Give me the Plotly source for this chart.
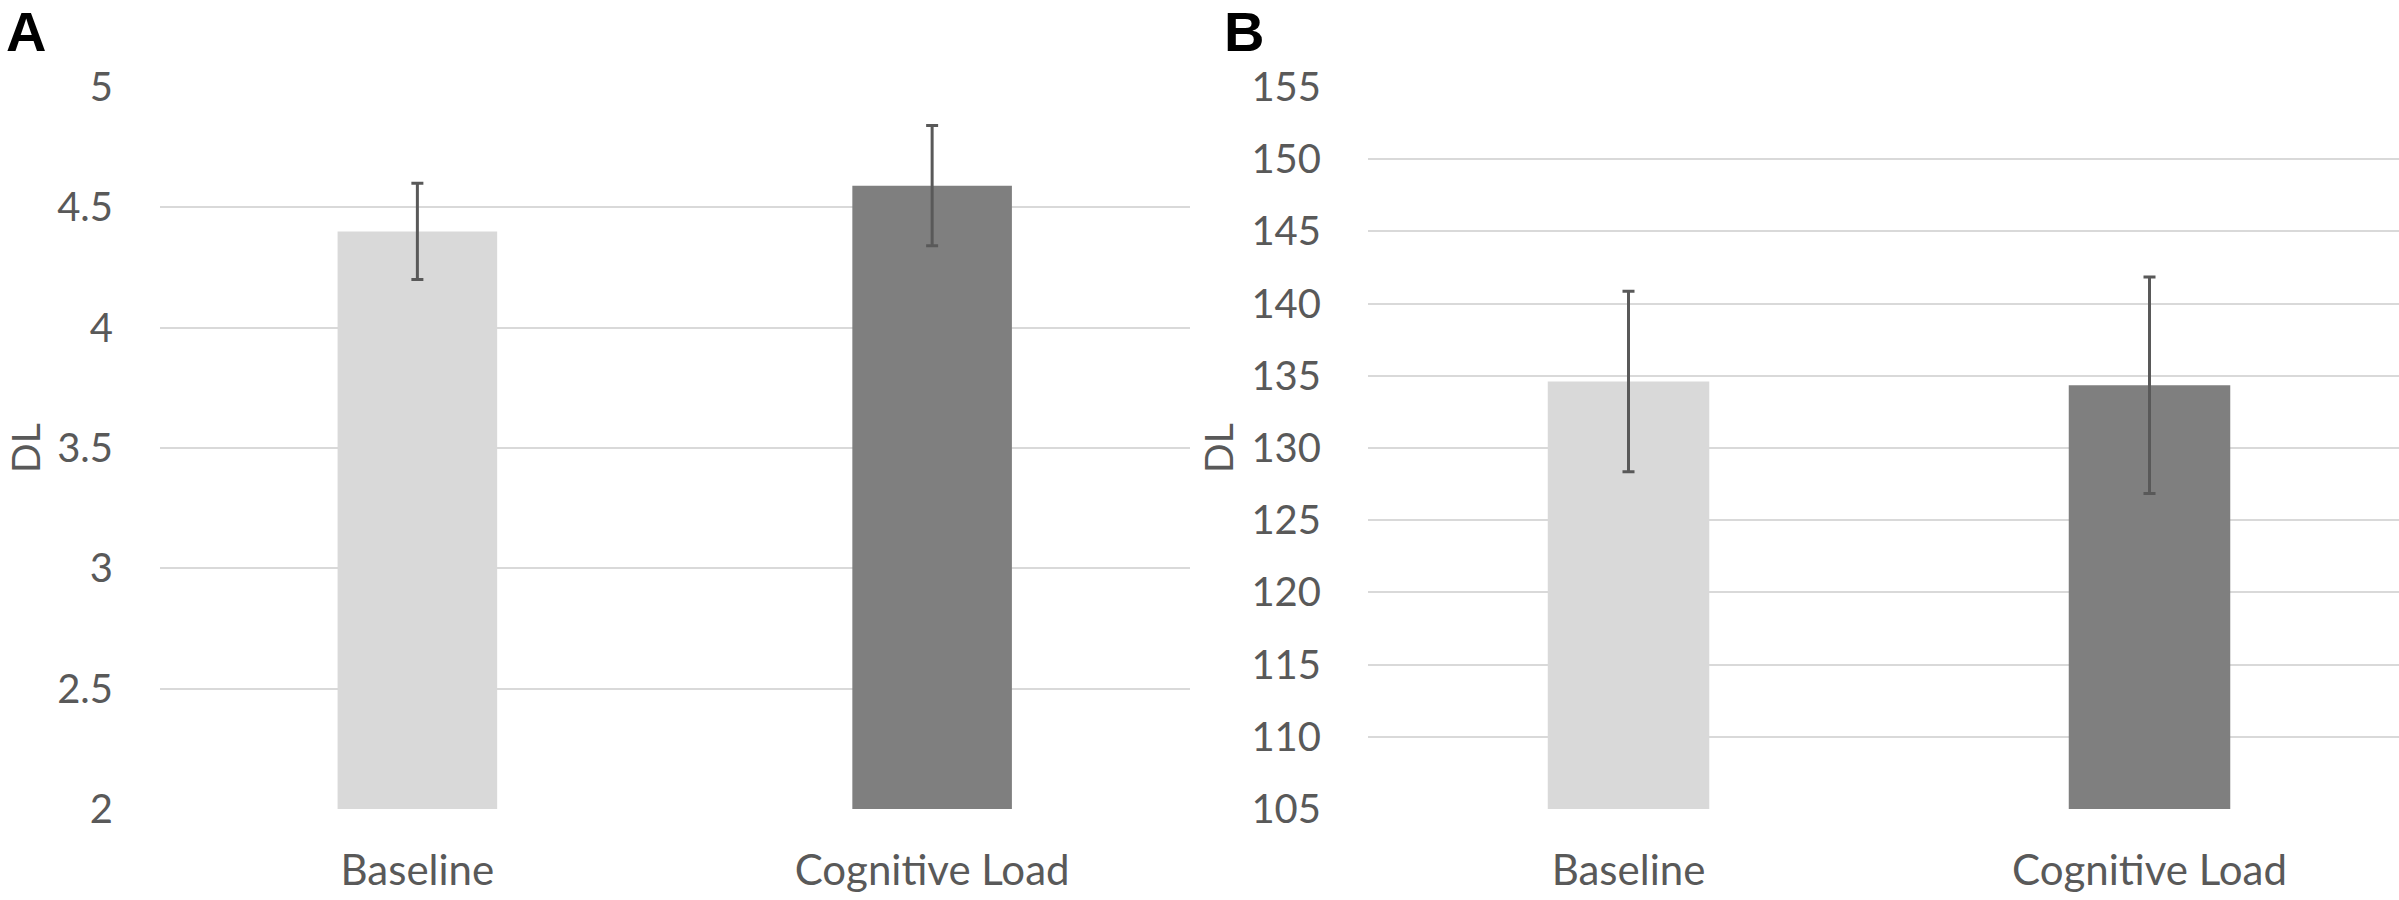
import plotly.graph_objects as go

categories = ["Baseline", "Cognitive Load"]
bar_colors = ["#D9D9D9", "#7F7F7F"]

a_values = [4.4, 4.59]
a_errors = [0.2, 0.25]
a_tickvals = [2, 2.5, 3, 3.5, 4, 4.5, 5]
a_ticktext = ["2", "2.5", "3", "3.5", "4", "4.5", "5"]

b_values = [134.6, 134.35]
b_errors = [6.25, 7.5]
b_tickvals = [105, 110, 115, 120, 125, 130, 135, 140, 145, 150, 155]
b_ticktext = [str(v) for v in b_tickvals]

W, H = 2399, 900
FONT = "Lato"
GRAY = "#595959"

fig = go.Figure()
for vals, errs, xa, ya in [(a_values, a_errors, "x", "y"), (b_values, b_errors, "x2", "y2")]:
    fig.add_trace(go.Bar(
        x=categories, y=vals, xaxis=xa, yaxis=ya,
        marker=dict(color=bar_colors, line=dict(width=0)),
        error_y=dict(type="data", array=errs, visible=True, color=GRAY,
                     thickness=3, width=6),
        showlegend=False,
    ))

ydom = [(900 - 809) / H, (900 - 87) / H]
common_x = dict(type="category", showgrid=False, zeroline=False, showline=False,
                automargin=False,
                ticks="outside", ticklen=25, tickcolor="rgba(0,0,0,0)",
                tickfont=dict(family=FONT, size=42, color=GRAY))
common_y = dict(showgrid=True, gridcolor="#D9D9D9", gridwidth=2, zeroline=False,
                automargin=False,
                showline=False, ticks="outside", ticklen=38, tickcolor="rgba(0,0,0,0)",
                tickfont=dict(family=FONT, size=40, color=GRAY))

fig.update_layout(
    width=W, height=H,
    margin=dict(l=0, r=0, t=0, b=0, pad=0, autoexpand=False),
    paper_bgcolor="white", plot_bgcolor="white",
    bargap=0.69,
    xaxis=dict(domain=[160 / W, 1189.5 / W], range=[-0.5, 1.5], anchor="y", **common_x),
    xaxis2=dict(domain=[1368 / W, 1.0], range=[-0.5, 1.5 - (2410 - 2399) / 521], anchor="y2", **common_x),
    yaxis=dict(domain=ydom, range=[2, 5], tickvals=a_tickvals, ticktext=a_ticktext,
               anchor="x", **common_y),
    yaxis2=dict(domain=ydom, range=[105, 155], tickvals=b_tickvals, ticktext=b_ticktext,
                anchor="x2", **common_y),
    annotations=[
        dict(text="<b>A</b>", x=6 / W, y=1.0, xref="paper", yref="paper", xanchor="left",
             yanchor="top", showarrow=False, borderpad=0, borderwidth=0,
             font=dict(family="Liberation Sans", size=56, color="black")),
        dict(text="<b>B</b>", x=1224 / W, y=1.0, xref="paper", yref="paper", xanchor="left",
             yanchor="top", showarrow=False, borderpad=0, borderwidth=0,
             font=dict(family="Liberation Sans", size=56, color="black")),
        dict(text="DL", x=25 / W, y=1 - 448 / H, xref="paper", yref="paper", xanchor="center",
             yanchor="middle", textangle=-90, showarrow=False, borderpad=0, borderwidth=0,
             font=dict(family=FONT, size=39, color=GRAY)),
        dict(text="DL", x=1218 / W, y=1 - 448 / H, xref="paper", yref="paper", xanchor="center",
             yanchor="middle", textangle=-90, showarrow=False, borderpad=0, borderwidth=0,
             font=dict(family=FONT, size=39, color=GRAY)),
    ],
)

fig.write_html("out.html", config={"displayModeBar": False},
               post_script="document.body.style.margin='0';")
